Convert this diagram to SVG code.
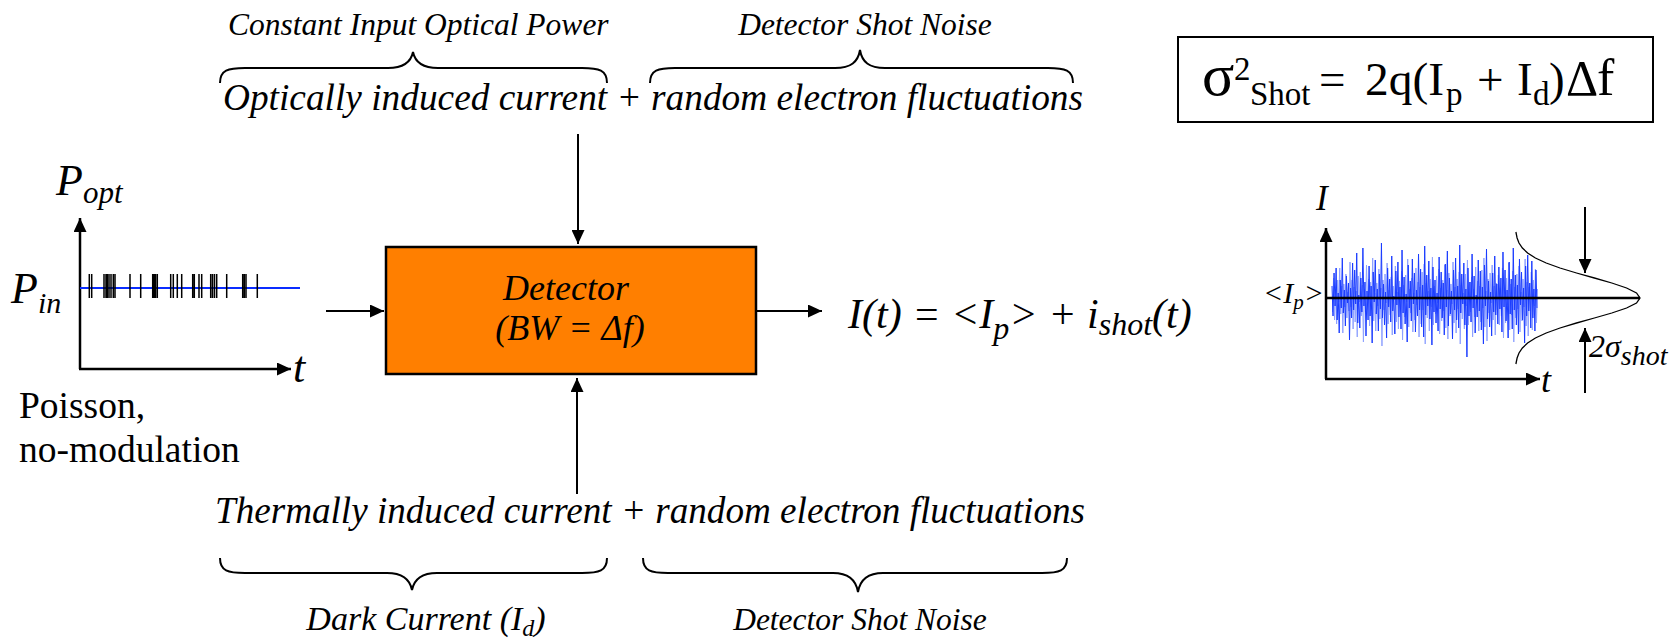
<svg xmlns="http://www.w3.org/2000/svg" width="1677" height="639" viewBox="0 0 1677 639">
<style>
.it{font-family:"Liberation Serif","Times New Roman","DejaVu Serif",serif;font-style:italic;fill:#000}
.rm{font-family:"Liberation Serif","Times New Roman","DejaVu Serif",serif;fill:#000}
.ln{stroke:#000;stroke-width:2;fill:none}
.ax{stroke:#000;stroke-width:2.5;fill:none}
.br{stroke:#000;stroke-width:2;fill:none}
</style>
<defs>
<marker id="ah" markerUnits="userSpaceOnUse" markerWidth="15" markerHeight="13" refX="14" refY="6.5" orient="auto">
<path d="M0,0 L14,6.5 L0,13 z" fill="#000"/>
</marker>
</defs>
<rect width="1677" height="639" fill="#fff"/>

<g id="top-labels">
<text class="it" x="228" y="35" font-size="31.5">Constant Input Optical Power</text>
<text class="it" x="865" y="35" font-size="31.5" text-anchor="middle">Detector Shot Noise</text>
<path class="br" d="M220,83 C220,70 228,68 245,68 L388,68 C404,68 411,62 413,52 C415,62 422,68 438,68 L582,68 C599,68 607,70 607,83"/>
<path class="br" d="M650,83 C650,70 658,68 675,68 L835,68 C851,68 858,62 860,50 C862,62 869,68 885,68 L1048,68 C1065,68 1073,70 1073,83"/>
<text class="it" x="223" y="110" font-size="37" textLength="860" lengthAdjust="spacingAndGlyphs">Optically induced current + random electron fluctuations</text>
</g>

<g id="bottom-labels">
<text class="it" x="215" y="523" font-size="37" textLength="870" lengthAdjust="spacingAndGlyphs">Thermally induced current + random electron fluctuations</text>
<path class="br" d="M220,558 C220,571 228,573 245,573 L387,573 C403,573 410,580 412,590 C414,580 421,573 437,573 L582,573 C599,573 607,571 607,558"/>
<path class="br" d="M643,558 C643,571 651,573 668,573 L833,573 C849,573 856,580 858,592 C860,580 867,573 883,573 L1042,573 C1059,573 1067,571 1067,558"/>
<text class="it" x="426" y="630" font-size="34" text-anchor="middle">Dark Current (I<tspan font-size="24" dy="6">d</tspan><tspan dy="-6">)</tspan></text>
<text class="it" x="860" y="630" font-size="31.5" text-anchor="middle">Detector Shot Noise</text>
</g>

<g id="detector">
<rect x="386" y="247" width="370" height="127" fill="#FF7F00" stroke="#000" stroke-width="2.5"/>
<text class="it" x="566" y="300" font-size="36" text-anchor="middle">Detector</text>
<text class="it" x="570" y="340" font-size="36" text-anchor="middle">(BW = Δf)</text>
</g>

<g id="connectors">
<line class="ln" x1="578" y1="134" x2="578" y2="244" marker-end="url(#ah)"/>
<line class="ln" x1="577" y1="494" x2="577" y2="378" marker-end="url(#ah)"/>
<line class="ln" x1="326" y1="311" x2="384" y2="311" marker-end="url(#ah)"/>
<line class="ln" x1="756" y1="311" x2="822" y2="311" marker-end="url(#ah)"/>
</g>

<g id="output-eq">
<text class="it" x="848" y="328" font-size="42">I(t) = &lt;I<tspan font-size="32" dy="11">p</tspan><tspan dy="-11">&gt; + i</tspan><tspan font-size="32" dy="7">shot</tspan><tspan dy="-7">(t)</tspan></text>
</g>

<g id="input-chart">
<line class="ax" x1="80" y1="369" x2="80" y2="218" marker-end="url(#ah)"/>
<line class="ax" x1="79" y1="369" x2="291" y2="369" marker-end="url(#ah)"/>
<line x1="80" y1="288" x2="300" y2="288" stroke="#0a2cff" stroke-width="2"/>
<path stroke="#000" stroke-width="1.5" fill="none" d="M89.3,274V298M91.7,274V298M104,274V298M106,274V298M107.3,274V298M109,274V298M111,274V298M113.3,274V298M115,274V298M130,274V298M140.7,274V298M152.7,274V298M154,274V298M155.5,274V298M157.3,274V298M170.7,274V298M173.3,274V298M177.3,274V298M181.7,274V298M192.7,274V298M194.3,274V298M199,274V298M201.7,274V298M210.7,274V298M212.5,274V298M214.5,274V298M216.7,274V298M226.7,274V298M242.7,274V298M244.3,274V298M246,274V298M257.3,274V298"/>
<text class="it" x="56" y="195" font-size="44">P<tspan font-size="31" dy="8">opt</tspan></text>
<text class="it" x="11" y="303" font-size="44">P<tspan font-size="30" dy="10">in</tspan></text>
<text class="it" x="293" y="382" font-size="44">t</text>
<text class="rm" x="19" y="418" font-size="37.5">Poisson,</text>
<text class="rm" x="19" y="462" font-size="37.5">no-modulation</text>
</g>

<g id="output-chart">
<g transform="translate(1332,298) scale(1.03,1)">
<polyline fill="none" stroke="#8fa2ff" stroke-width="1" vector-effect="non-scaling-stroke" points="0.5,14 1.5,-20 2.5,22 3.5,-9 4.5,26 5.5,-18 6.5,4 7.5,-30 8.5,16 9.5,-12 10.5,35 11.5,-14 12.5,9 13.5,-24 14.5,20 15.5,-6 16.5,13 17.5,-36 18.5,9 19.5,-18 20.5,31 21.5,-11 22.5,24 23.5,-7 24.5,39 25.5,-22 26.5,4 27.5,-26 28.5,18 29.5,-13 30.5,44 31.5,-9 32.5,14 33.5,-33 34.5,6 35.5,-19 36.5,28 37.5,-16 38.5,11 39.5,-40 40.5,23 41.5,-5 42.5,33 43.5,-15 44.5,8 45.5,-29 46.5,21 47.5,-10 48.5,48 49.5,-18 50.5,12 51.5,-24 52.5,5 53.5,-35 54.5,26 55.5,-8 56.5,17 57.5,-21 58.5,37 59.5,-12 60.5,2 61.5,-32 62.5,24 63.5,-6 64.5,31 65.5,-17 66.5,10 67.5,-27 68.5,42 69.5,-13 70.5,19 71.5,-23 72.5,4 73.5,-39 74.5,29 75.5,-9 76.5,15 77.5,-20 78.5,34 79.5,-5 80.5,22 81.5,-30 82.5,7 83.5,-16 84.5,39 85.5,-11 86.5,26 87.5,-26 88.5,12 89.5,-34 90.5,46 91.5,-15 92.5,20 93.5,-7 94.5,33 95.5,-19 96.5,9 97.5,-41 98.5,27 99.5,-12 100.5,16 101.5,-22 102.5,5 103.5,-29 104.5,36 105.5,-10 106.5,23 107.5,-18 108.5,13 109.5,-33 110.5,30 111.5,-8 112.5,41 113.5,-25 114.5,18 115.5,-14 116.5,6 117.5,-36 118.5,25 119.5,-11 120.5,35 121.5,-19 122.5,11 123.5,-26 124.5,46 125.5,-13 126.5,21 127.5,-5 128.5,31 129.5,-24 130.5,8 131.5,-38 132.5,27 133.5,-16 134.5,14 135.5,-21 136.5,39 137.5,-9 138.5,19 139.5,-31 140.5,3 141.5,-17 142.5,33 143.5,-12 144.5,24 145.5,-28 146.5,10 147.5,-40 148.5,29 149.5,-7 150.5,43 151.5,-19 152.5,15 153.5,-25 154.5,5 155.5,-33 156.5,22 157.5,-12 158.5,37 159.5,-15 160.5,12 161.5,-23 162.5,27 163.5,-10 164.5,18 165.5,-30 166.5,40 167.5,-8 168.5,25 169.5,-20 170.5,7 171.5,-35 172.5,32 173.5,-14 174.5,17 175.5,-27 176.5,44 177.5,-11 178.5,20 179.5,-24 180.5,11 181.5,-32 182.5,34 183.5,-6 184.5,23 185.5,-19 186.5,9 187.5,-39 188.5,28 189.5,-16 190.5,38 191.5,-11 192.5,13 193.5,-26 194.5,32 195.5,-18 196.5,8 197.5,-29 198.5,25 199.5,-9"/>
<polyline fill="none" stroke="#1a3cff" stroke-width="1" vector-effect="non-scaling-stroke" points="0,-12 1,18 2,-25 3,8 4,-30 5,22 6,-5 7,35 8,-18 9,10 10,-40 11,15 12,-8 13,28 14,-22 15,5 16,-15 17,42 18,-10 19,20 20,-35 21,12 22,-28 23,6 24,-45 25,25 26,-3 27,30 28,-20 29,14 30,-50 31,8 32,-16 33,38 34,-7 35,22 36,-32 37,18 38,-12 39,45 40,-26 41,4 42,-38 43,16 44,-9 45,33 46,-24 47,11 48,-55 49,20 50,-14 51,27 52,-6 53,40 54,-30 55,9 56,-19 57,24 58,-42 59,13 60,-2 61,36 62,-27 63,7 64,-36 65,19 66,-11 67,31 68,-48 69,15 70,-21 71,26 72,-4 73,44 74,-33 75,10 76,-17 77,23 78,-39 79,6 80,-25 81,34 82,-8 83,18 84,-44 85,12 86,-29 87,29 88,-13 89,39 90,-52 91,17 92,-23 93,8 94,-37 95,21 96,-10 97,47 98,-31 99,14 100,-18 101,25 102,-5 103,33 104,-41 105,11 106,-26 107,20 108,-15 109,37 110,-34 111,9 112,-47 113,28 114,-20 115,16 116,-7 117,41 118,-28 119,12 120,-40 121,22 122,-12 123,30 124,-53 125,15 126,-24 127,6 128,-35 129,27 130,-9 131,59 132,-30 133,18 134,-16 135,24 136,-44 137,10 138,-22 139,35 140,-3 141,19 142,-38 143,13 144,-27 145,32 146,-11 147,46 148,-33 149,8 150,-49 151,21 152,-17 153,29 154,-6 155,38 156,-25 157,14 158,-42 159,17 160,-14 161,26 162,-31 163,11 164,-20 165,34 166,-46 167,9 168,-28 169,23 170,-8 171,40 172,-36 173,16 174,-19 175,31 176,-50 177,12 178,-23 179,27 180,-13 181,36 182,-39 183,7 184,-26 185,22 186,-10 187,45 188,-32 189,18 190,-43 191,13 192,-15 193,30 194,-37 195,20 196,-9 197,33 198,-28 199,10"/>
</g>
<line x1="1326" y1="298" x2="1640" y2="298" stroke="#000" stroke-width="2.5"/>
<line class="ax" x1="1326" y1="379" x2="1326" y2="228" marker-end="url(#ah)"/>
<line class="ax" x1="1325" y1="379" x2="1540" y2="379" marker-end="url(#ah)"/>
<polyline fill="none" stroke="#000" stroke-width="1.3" points="1515.9,232 1517.1,238 1519,243 1522.4,248 1527.6,253 1535.4,258 1546.2,263 1560,268 1576.5,273 1594.4,278 1611.8,283 1626.6,288 1636.5,293 1640,298 1636.5,303 1626.6,308 1611.8,313 1594.4,318 1576.5,323 1560,328 1546.2,333 1535.4,338 1527.6,343 1522.4,348 1519,353 1517.1,358 1515.9,364"/>
<line class="ln" x1="1585" y1="207" x2="1585" y2="273" marker-end="url(#ah)"/>
<line class="ln" x1="1585" y1="393" x2="1585" y2="328" marker-end="url(#ah)"/>
<text class="it" x="1316" y="210" font-size="35">I</text>
<text class="it" x="1263" y="303" font-size="30">&lt;I<tspan font-size="21" dy="6">p</tspan><tspan dy="-6">&gt;</tspan></text>
<text class="it" x="1541" y="392" font-size="36">t</text>
<text class="it" x="1589" y="357" font-size="32">2σ<tspan font-size="28" dy="8">shot</tspan></text>
</g>

<g id="formula">
<rect x="1178" y="37" width="475" height="85" fill="#fff" stroke="#000" stroke-width="2"/>
<text class="rm" x="1202" y="95" font-size="60">σ</text>
<text class="rm" x="1234" y="80" font-size="33">2</text>
<text class="rm" x="1250" y="105" font-size="33">Shot</text>
<text class="rm" x="1319" y="95" font-size="47">=</text>
<text class="rm" x="1365" y="95" font-size="47" textLength="79" lengthAdjust="spacingAndGlyphs">2q(I</text>
<text class="rm" x="1446" y="105" font-size="33">p</text>
<text class="rm" x="1477" y="95" font-size="47">+</text>
<text class="rm" x="1517" y="95" font-size="47">I</text>
<text class="rm" x="1533" y="105" font-size="33">d</text>
<text class="rm" x="1549" y="95" font-size="47">)</text>
<text class="rm" x="1566" y="95" font-size="50">Δ</text>
<text class="rm" x="1597" y="95" font-size="52">f</text>
</g>
</svg>
